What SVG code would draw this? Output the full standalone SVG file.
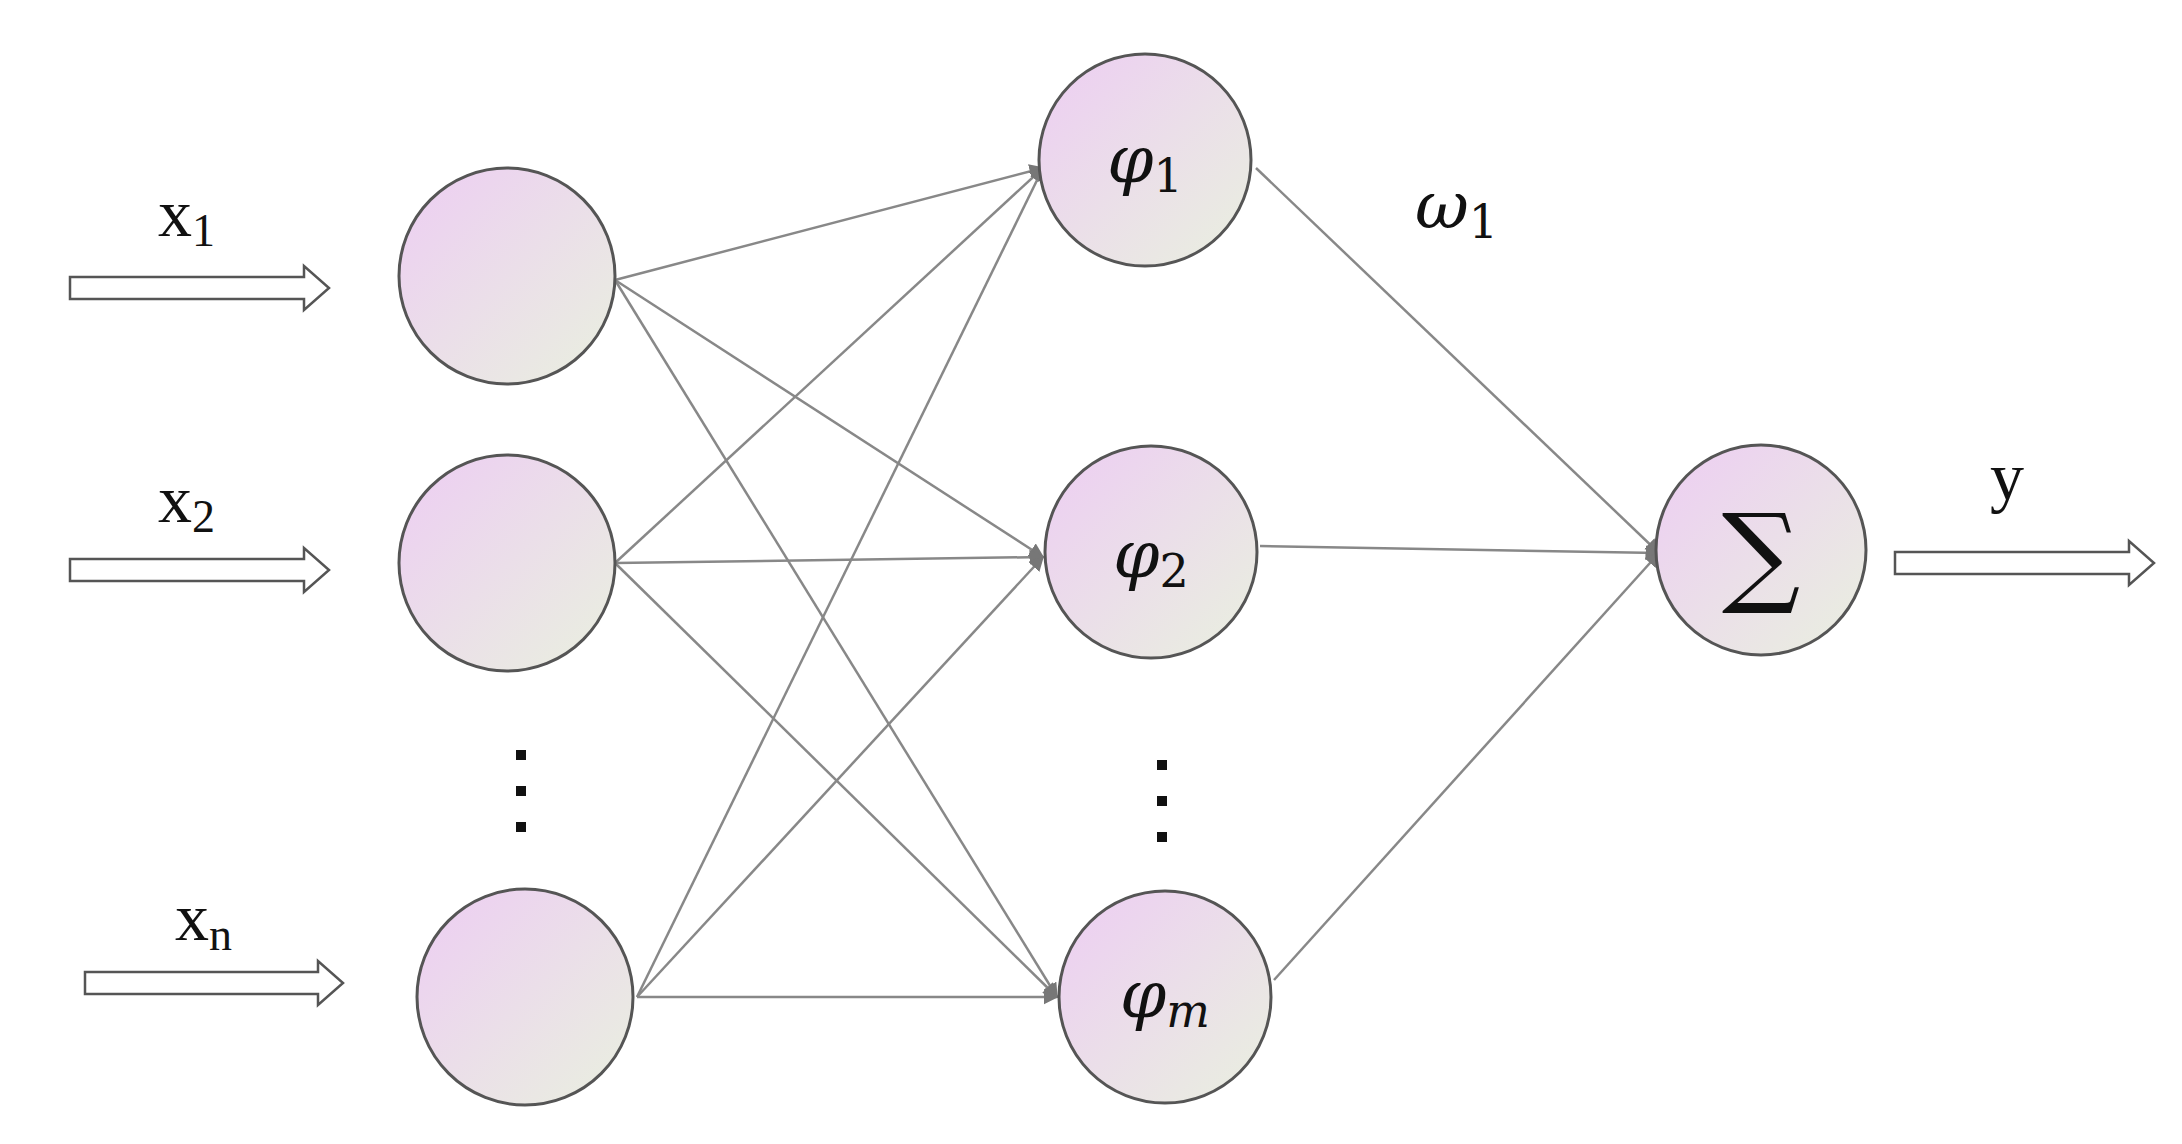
<svg xmlns="http://www.w3.org/2000/svg" width="2182" height="1144" viewBox="0 0 2182 1144">
<defs>
<linearGradient id="g" x1="0" y1="0" x2="1" y2="1"><stop offset="0" stop-color="#edcdf3"/><stop offset="1" stop-color="#e9f0df"/></linearGradient>
<marker id="ah" viewBox="0 0 10 10" refX="9" refY="5" markerWidth="6" markerHeight="6" orient="auto"><path d="M0,0 L10,5 L0,10 z" fill="#777"/></marker>
<style>
.n{fill:url(#g);stroke:#555;stroke-width:3}
.e{stroke:#888;stroke-width:2.5;fill:none}
.ar{fill:#fff;stroke:#555;stroke-width:2.5}
.t{font-family:"Liberation Serif",serif;font-size:68px;fill:#111}
.m{font-family:"DejaVu Serif","Liberation Serif",serif;font-style:italic;font-size:66px;fill:#111}
</style>
</defs>
<rect width="2182" height="1144" fill="#fff"/>
<g id="connectors">
<line class="e" x1="615" y1="280" x2="1043" y2="168" marker-end="url(#ah)"/>
<line class="e" x1="615" y1="280" x2="1043" y2="557" marker-end="url(#ah)"/>
<line class="e" x1="615" y1="280" x2="1057" y2="997" marker-end="url(#ah)"/>
<line class="e" x1="615" y1="563" x2="1043" y2="168" marker-end="url(#ah)"/>
<line class="e" x1="615" y1="563" x2="1043" y2="557" marker-end="url(#ah)"/>
<line class="e" x1="615" y1="563" x2="1057" y2="997" marker-end="url(#ah)"/>
<line class="e" x1="637" y1="997" x2="1043" y2="168" marker-end="url(#ah)"/>
<line class="e" x1="637" y1="997" x2="1043" y2="557" marker-end="url(#ah)"/>
<line class="e" x1="637" y1="997" x2="1057" y2="997" marker-end="url(#ah)"/>
<line class="e" x1="1256" y1="168" x2="1659" y2="553" marker-end="url(#ah)"/>
<line class="e" x1="1260" y1="546" x2="1659" y2="553" marker-end="url(#ah)"/>
<line class="e" x1="1274" y1="980" x2="1659" y2="553" marker-end="url(#ah)"/>
<path class="ar" d="M70,277 H304 V266 L329,288 L304,310 V299 H70 Z"/>
<path class="ar" d="M70,559 H304 V548 L329,570 L304,592 V581 H70 Z"/>
<path class="ar" d="M85,972 H318 V961 L343,983 L318,1005 V994 H85 Z"/>
<path class="ar" d="M1895,552 H2129 V541 L2154,563 L2129,585 V574 H1895 Z"/>
</g>
<g id="in1"><circle class="n" cx="507" cy="276" r="108"/></g>
<g id="in2"><circle class="n" cx="507" cy="563" r="108"/></g>
<g id="inn"><circle class="n" cx="525" cy="997" r="108"/></g>
<g id="h1"><circle class="n" cx="1145" cy="160" r="106"/><text class="m" x="1145" y="182" text-anchor="middle">φ<tspan font-style="normal" font-size="46" dy="10">1</tspan></text></g>
<g id="h2"><circle class="n" cx="1151" cy="552" r="106"/><text class="m" x="1151" y="577" text-anchor="middle">φ<tspan font-style="normal" font-size="46" dy="10">2</tspan></text></g>
<g id="hm"><circle class="n" cx="1165" cy="997" r="106"/><text class="m" x="1165" y="1017" text-anchor="middle">φ<tspan font-size="46" dy="10">m</tspan></text></g>
<g id="sum"><circle class="n" cx="1761" cy="550" r="105"/><text x="1761" y="592" text-anchor="middle" font-family="DejaVu Serif,serif" font-size="110" fill="#111">∑</text></g>
<g id="labels">
<text class="t" x="158" y="236">x<tspan font-size="46" dy="10">1</tspan></text>
<text class="t" x="158" y="522">x<tspan font-size="46" dy="10">2</tspan></text>
<text class="t" x="175" y="940">x<tspan font-size="46" dy="10">n</tspan></text>
<text class="m" x="1415" y="228">ω<tspan font-style="normal" font-size="46" dy="10">1</tspan></text>
<text class="t" x="1990" y="500">y</text>
<g fill="#111"><rect x="516" y="750" width="10" height="10"/><rect x="516" y="786" width="10" height="10"/><rect x="516" y="822" width="10" height="10"/><rect x="1157" y="760" width="10" height="10"/><rect x="1157" y="796" width="10" height="10"/><rect x="1157" y="832" width="10" height="10"/></g>
</g>
</svg>
